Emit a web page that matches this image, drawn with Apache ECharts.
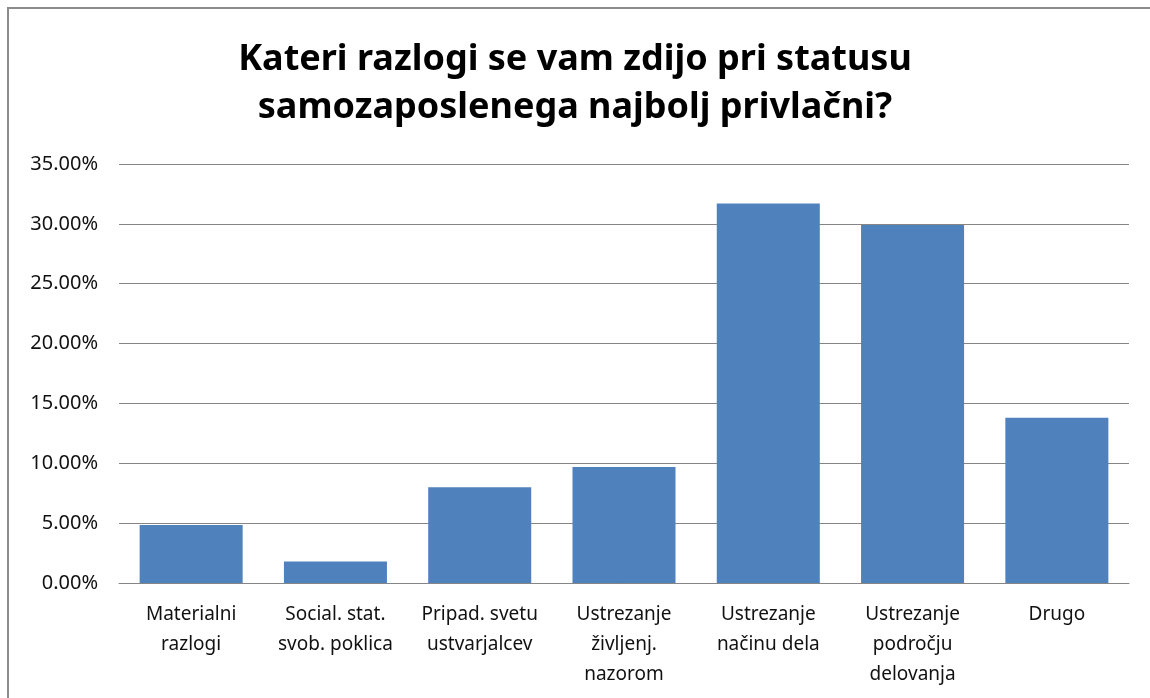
<!DOCTYPE html>
<html>
<head>
<meta charset="utf-8">
<script src="https://cdn.jsdelivr.net/npm/echarts@6/dist/echarts.min.js"></script>
<style>
html, body { margin: 0; padding: 0; background: #fff; }
#frame { position: absolute; left: 7px; top: 7px; width: 1200px; height: 760px;
  border-left: 2px solid #8c8c8c; border-top: 2px solid #8c8c8c; }
#main { position: absolute; left: 0; top: 0; width: 1150px; height: 698px; }
</style>
</head>
<body>
<div id="frame"></div>
<div id="main"></div>
<script>
// podatki
var categories = ['Materialni\nrazlogi', 'Social. stat.\nsvob. poklica', 'Pripad. svetu\nustvarjalcev',
  'Ustrezanje\nživljenj.\nnazorom', 'Ustrezanje\nnačinu dela', 'Ustrezanje\npodročju\ndelovanja', 'Drugo'];
var values = [4.85, 1.8, 8.0, 9.7, 31.7, 29.9, 13.8];
var yTicks = [0, 5, 10, 15, 20, 25, 30, 35];

var myChart = echarts.init(document.getElementById('main'));

var option = {
  title: {
    text: 'Kateri razlogi se vam zdijo pri statusu\nsamozaposlenega najbolj privlačni?',
    left: 'center',
    top: 31,
    textStyle: {
      fontFamily: '"Noto Sans", sans-serif',
      fontSize: 36,
      fontWeight: 'bold',
      color: '#000',
      lineHeight: 48
    }
  },
  grid: { left: 119, right: 21, top: 164, bottom: 115 },
  xAxis: {
    type: 'category',
    data: categories,
    axisLine: { lineStyle: { color: '#868686', width: 1 } },
    axisTick: { show: false },
    axisLabel: {
      interval: 0,
      margin: 17,
      fontFamily: '"Noto Sans", sans-serif',
      fontSize: 19,
      lineHeight: 30,
      color: '#111'
    }
  },
  yAxis: {
    type: 'value',
    min: yTicks[0],
    max: yTicks[yTicks.length - 1],
    interval: 5,
    axisLine: { show: false },
    axisTick: { show: false },
    splitLine: { lineStyle: { color: '#868686', width: 1 } },
    axisLabel: {
      margin: 21,
      fontFamily: '"Noto Sans", sans-serif',
      fontSize: 20,
      color: '#111',
      formatter: function (v) { return v.toFixed(2) + '%'; }
    }
  },
  series: [{
    type: 'bar',
    data: values,
    barCategoryGap: '28.6%',
    itemStyle: { color: '#4F81BD' }
  }]
};
myChart.setOption(option);
</script>
</body>
</html>
